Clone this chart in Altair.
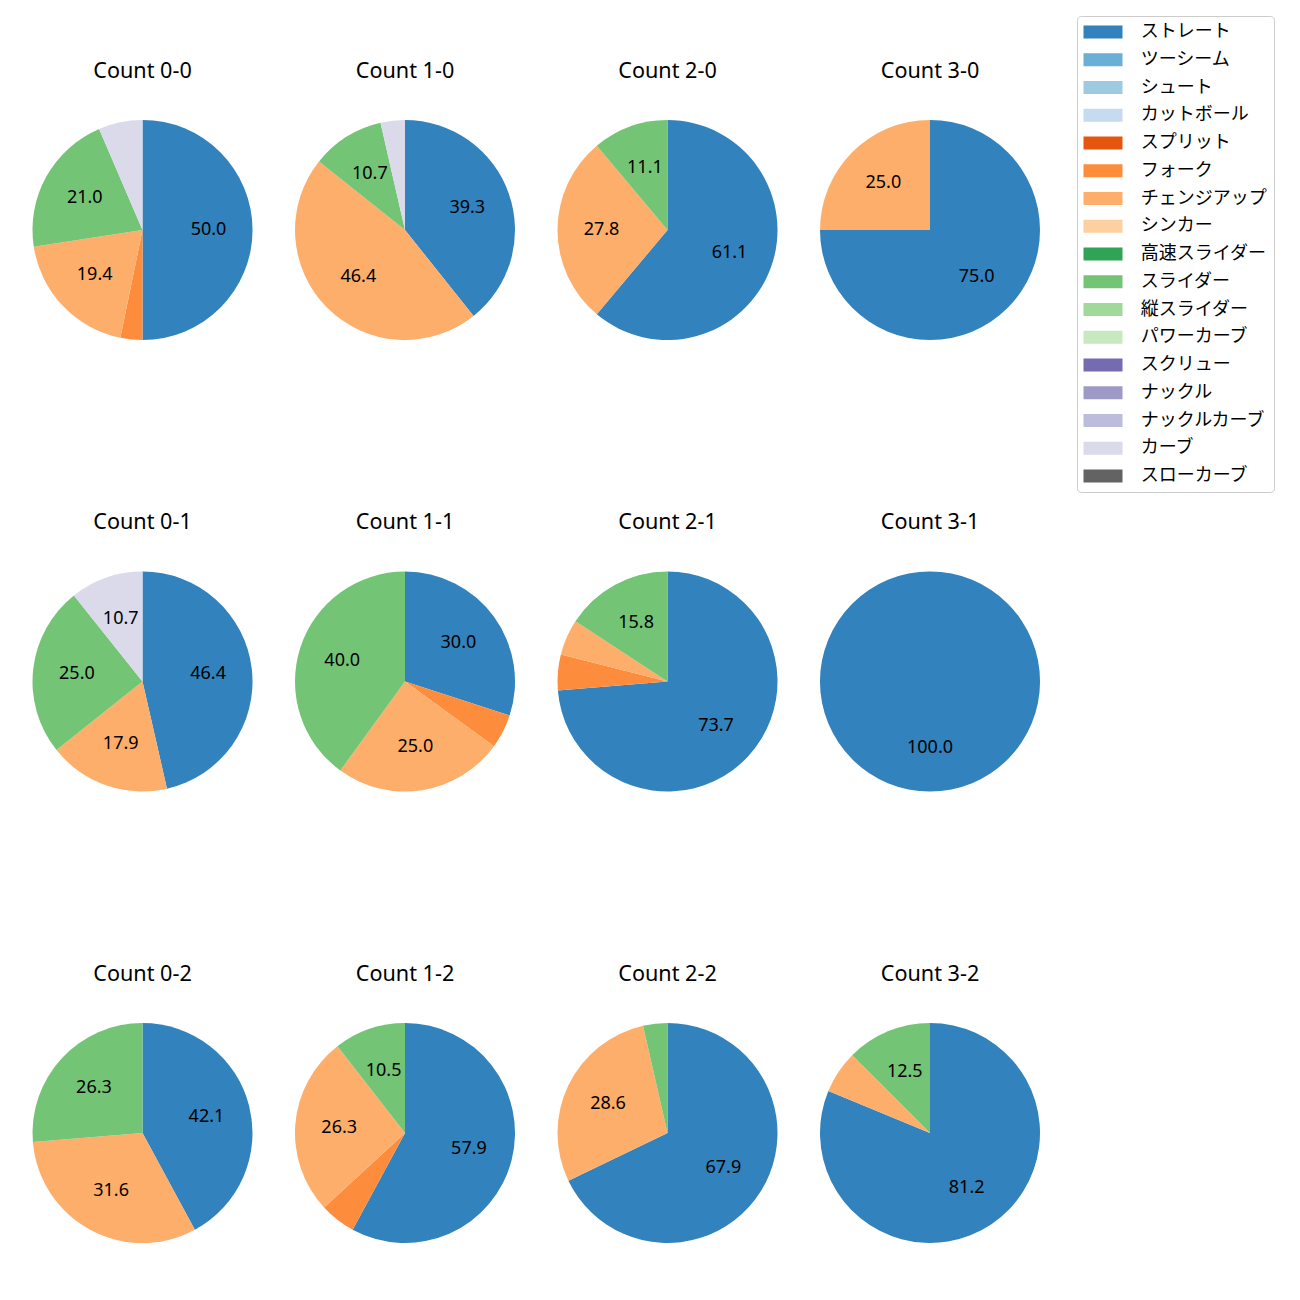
import altair as alt
import pandas as pd

FONT = "Noto Sans, Noto Sans CJK JP"

pitches = ["ストレート", "ツーシーム", "シュート", "カットボール", "スプリット", "フォーク",
           "チェンジアップ", "シンカー", "高速スライダー", "スライダー", "縦スライダー",
           "パワーカーブ", "スクリュー", "ナックル", "ナックルカーブ", "カーブ", "スローカーブ"]
colors = ["#3182bd", "#6baed6", "#9ecae1", "#c6dbef", "#e6550d", "#fd8d3c",
          "#fdae6b", "#fdd0a2", "#31a354", "#74c476", "#a1d99b", "#c7e9c0",
          "#756bb1", "#9e9ac8", "#bcbddc", "#dadaeb", "#636363"]

# pitch counts per ball-strike count, in the order of `pitches`
count_0_0 = [31, 0, 0, 0, 0, 2, 12, 0, 0, 13, 0, 0, 0, 0, 0, 4, 0]
count_1_0 = [11, 0, 0, 0, 0, 0, 13, 0, 0, 3, 0, 0, 0, 0, 0, 1, 0]
count_2_0 = [11, 0, 0, 0, 0, 0, 5, 0, 0, 2, 0, 0, 0, 0, 0, 0, 0]
count_3_0 = [3, 0, 0, 0, 0, 0, 1, 0, 0, 0, 0, 0, 0, 0, 0, 0, 0]
count_0_1 = [13, 0, 0, 0, 0, 0, 5, 0, 0, 7, 0, 0, 0, 0, 0, 3, 0]
count_1_1 = [6, 0, 0, 0, 0, 1, 5, 0, 0, 8, 0, 0, 0, 0, 0, 0, 0]
count_2_1 = [14, 0, 0, 0, 0, 1, 1, 0, 0, 3, 0, 0, 0, 0, 0, 0, 0]
count_3_1 = [5, 0, 0, 0, 0, 0, 0, 0, 0, 0, 0, 0, 0, 0, 0, 0, 0]
count_0_2 = [8, 0, 0, 0, 0, 0, 6, 0, 0, 5, 0, 0, 0, 0, 0, 0, 0]
count_1_2 = [11, 0, 0, 0, 0, 1, 5, 0, 0, 2, 0, 0, 0, 0, 0, 0, 0]
count_2_2 = [19, 0, 0, 0, 0, 0, 8, 0, 0, 1, 0, 0, 0, 0, 0, 0, 0]
count_3_2 = [13, 0, 0, 0, 0, 0, 1, 0, 0, 2, 0, 0, 0, 0, 0, 0, 0]

grid = [
    [("Count 0-0", count_0_0), ("Count 1-0", count_1_0), ("Count 2-0", count_2_0), ("Count 3-0", count_3_0)],
    [("Count 0-1", count_0_1), ("Count 1-1", count_1_1), ("Count 2-1", count_2_1), ("Count 3-1", count_3_1)],
    [("Count 0-2", count_0_2), ("Count 1-2", count_1_2), ("Count 2-2", count_2_2), ("Count 3-2", count_3_2)],
]

legend = alt.Legend(
    title=None, orient="none", legendX=1044.5, legendY=-104,
    symbolType="M-3,-1L3,-1L3,1L-3,1Z", symbolSize=169, symbolOffset=10,
    symbolStrokeWidth=0, symbolOpacity=1,
    labelFont=FONT, labelFontSize=18, labelColor="black", labelOffset=28.7,
    labelExpr="datum.label + '\u2002'",
    rowPadding=9.75, padding=7, strokeColor="#cccccc", fillColor="white",
    cornerRadius=4,
)


def pie(title, values):
    df = pd.DataFrame({"pitch": pitches, "idx": list(range(len(pitches))), "n": values})
    df = df[df["n"] > 0].copy()
    total = df["n"].sum()
    df["pct"] = 100.0 * df["n"] / total
    df["label"] = ["%1.1f" % p if p >= 10 else "" for p in df["pct"]]
    base = alt.Chart(df)
    arc = base.mark_arc(outerRadius=110).encode(
        theta=alt.Theta("n:Q", stack=True),
        color=alt.Color("pitch:N", scale=alt.Scale(domain=pitches, range=colors), legend=legend),
        order=alt.Order("idx:Q"),
    )
    txt = base.mark_text(radius=66, font=FONT, fontSize=18, color="black").encode(
        theta=alt.Theta("n:Q", stack=True),
        detail="pitch:N",
        order=alt.Order("idx:Q"),
        text="label:N",
    )
    return alt.layer(arc, txt).properties(
        width=220, height=220,
        title=alt.TitleParams(title, font=FONT, fontSize=21.6, fontWeight="normal",
                              color="black", offset=37.5, anchor="middle"),
    )


rows = [alt.hconcat(*[pie(t, v) for t, v in row], spacing=42.5) for row in grid]
chart = alt.vconcat(*rows, spacing=171.5).properties(
    padding={"left": 24.5, "top": 7, "right": 5, "bottom": 5}
).configure_view(stroke=None).configure_legend(strokeWidth=1)

chart.save("out.html", embed_options={"renderer": "svg", "actions": False})
